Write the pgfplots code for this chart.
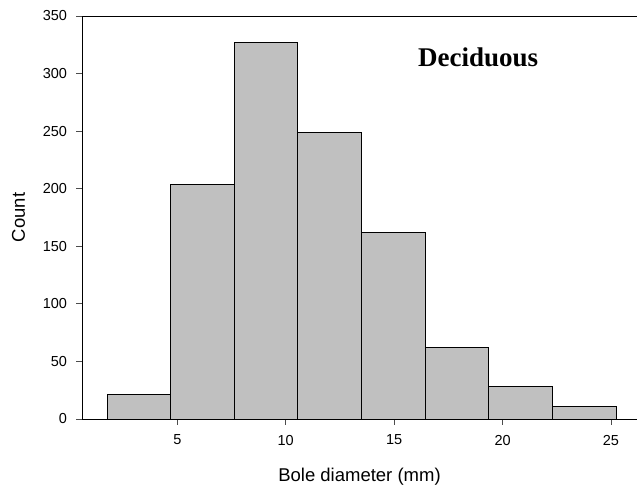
\documentclass[border=0pt]{standalone}
\usepackage{pgfplots}
\pgfplotsset{compat=1.18}
\usepackage{fontspec}
\setmainfont{Liberation Sans}
\newfontfamily\titlefont{Liberation Serif}
\definecolor{barfill}{RGB}{192,192,192}
\begin{document}
\begin{tikzpicture}
\useasboundingbox (-82bp,-68bp) rectangle (555bp,419bp);
\begin{axis}[
  at={(0,0)}, anchor=origin,
  scale only axis,
  width=555bp, height=403bp,
  xmin=0.605, xmax=26.2,
  ymin=0, ymax=350,
  axis lines*=left,
  axis line style={line width=0.9bp, black},
  xtick={5,10,15,20,25},
  ytick={0,50,100,150,200,250,300,350},
  tick align=outside,
  major tick length=5.5bp,
  tick style={line width=0.8bp, black!70},
  /pgf/number format/assume math mode=true,
  tick label style={font=\fontsize{14.5bp}{16bp}\selectfont},
  xticklabel style={yshift=-7bp},
  yticklabel style={xshift=-6bp},
  xlabel={Bole diameter (mm)},
  ylabel={Count},
  every axis x label/.style={at={(axis description cs:0.5,0)}, anchor=base, yshift=-62bp, font=\fontsize{18.5bp}{21bp}\selectfont},
  every axis y label/.style={at={([xshift=-57bp]axis description cs:0,0.5)}, rotate=90, anchor=base, font=\fontsize{18.5bp}{21bp}\selectfont},
]
\addplot[ybar interval, fill=barfill, draw=black, line width=0.9bp] coordinates {
  (1.76,21) (4.69,204) (7.63,327) (10.56,249) (13.50,162) (16.43,62) (19.36,28) (22.30,11) (25.23,11)
};
\draw[line width=0.9bp, black] (rel axis cs:0,1) -- (rel axis cs:1,1);
\node[anchor=base, font=\titlefont\bfseries\fontsize{27bp}{30bp}\selectfont] at (axis cs:18.87,306) {Deciduous};
\end{axis}
\end{tikzpicture}
\end{document}
